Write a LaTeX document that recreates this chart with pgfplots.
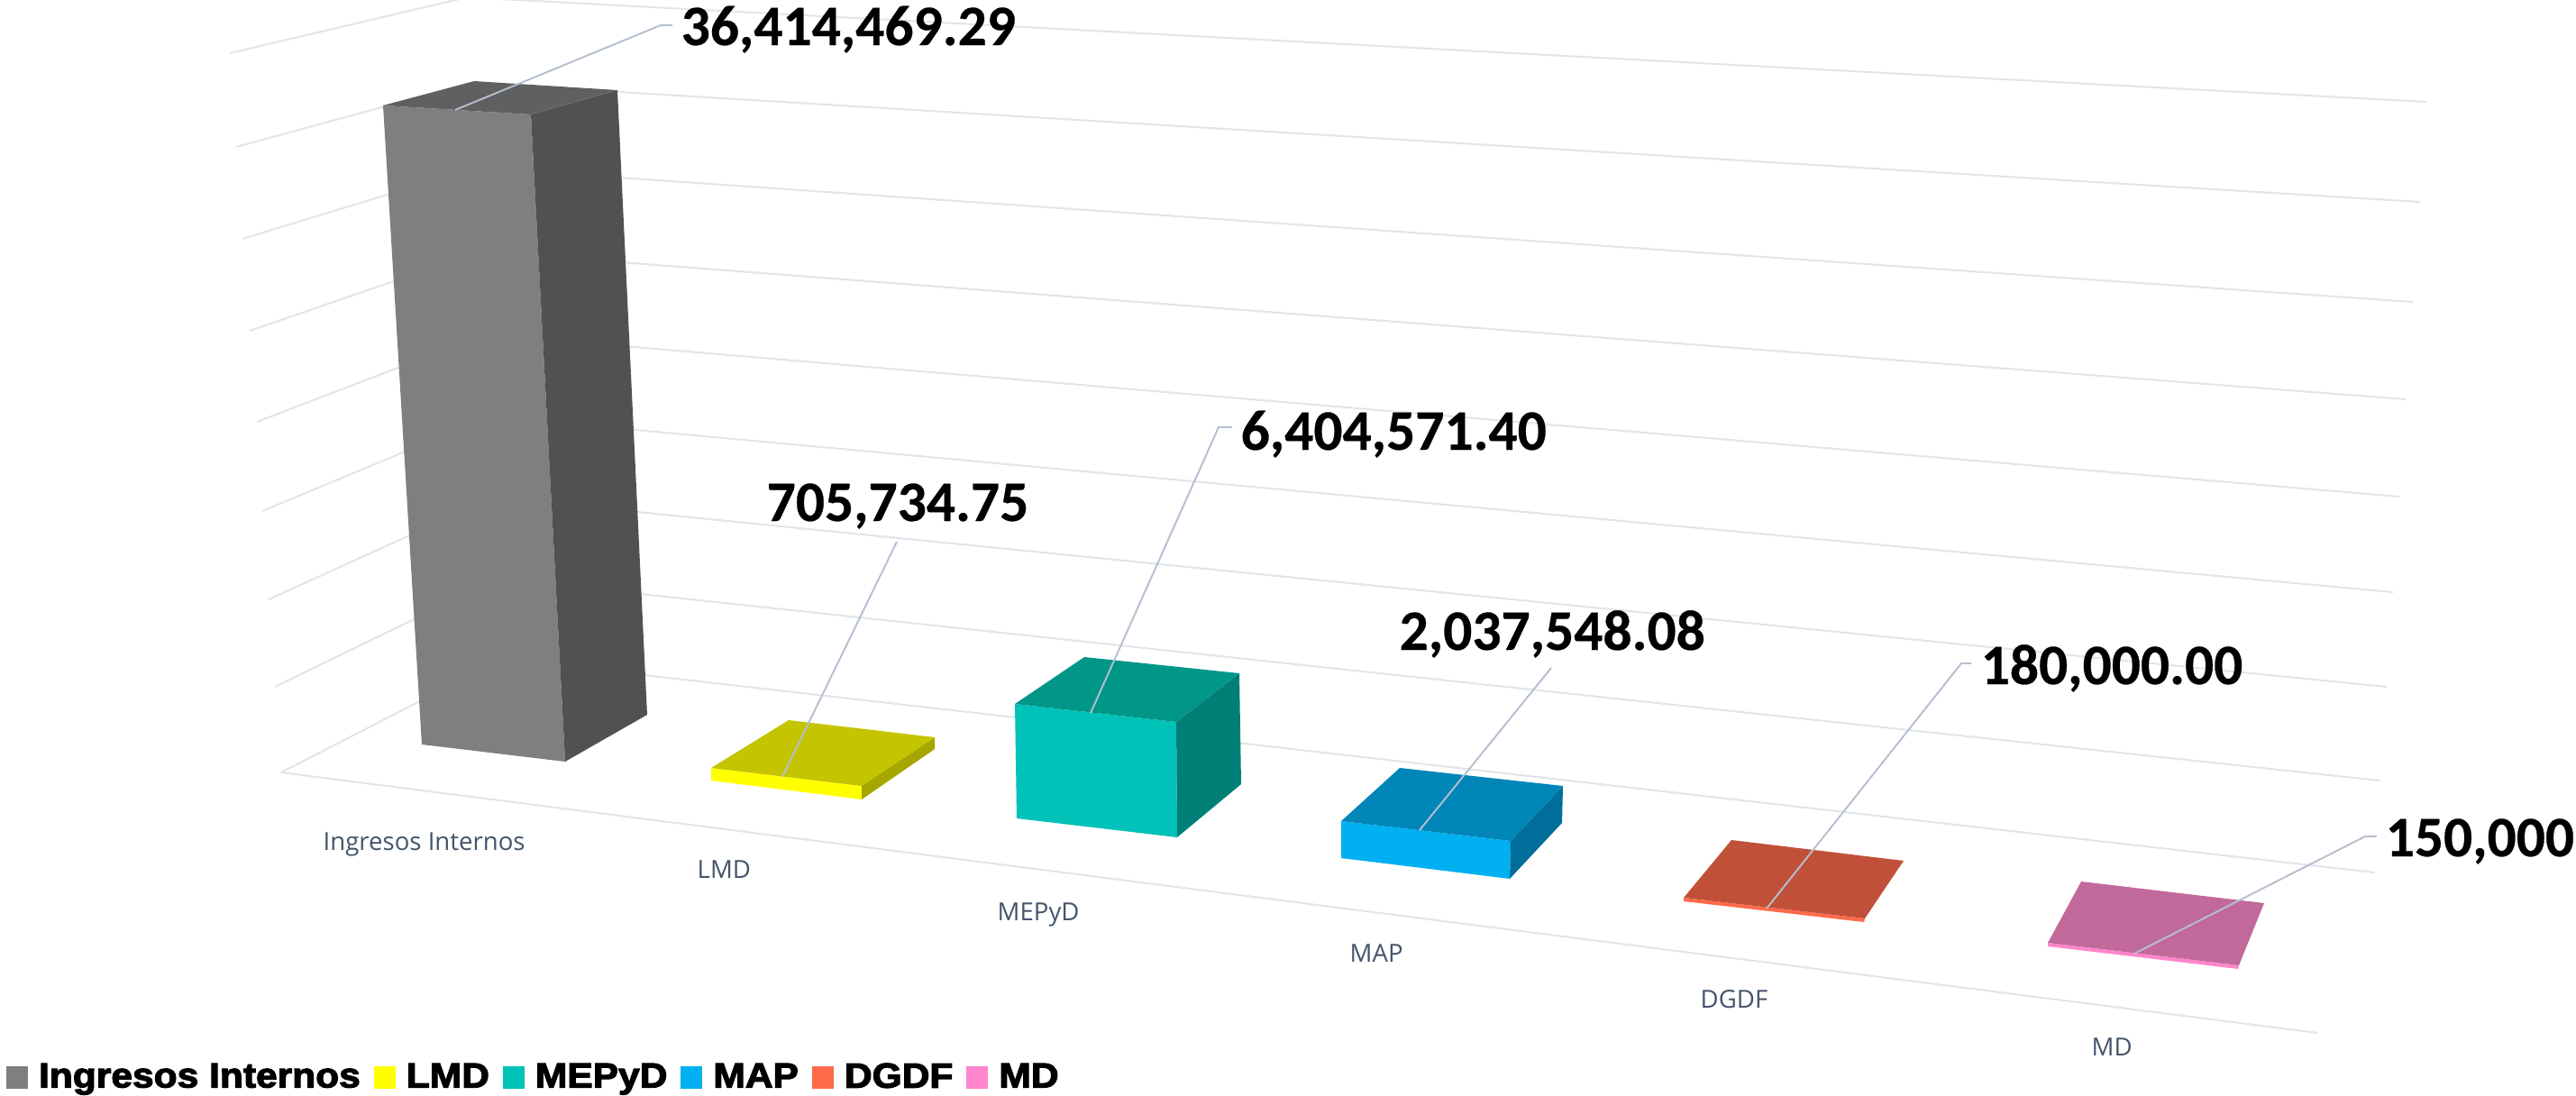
\documentclass[border=0pt]{standalone}
\usepackage{pgfplots}
\pgfplotsset{compat=1.18}
\usepackage{fontspec}
\setmainfont{Carlito}[BoldFeatures={FakeBold=0.4}]
\newfontfamily\catfont{Open Sans}
\newfontfamily\legfont{Liberation Sans}[BoldFeatures={FakeBold=3,FakeStretch=1.10}]
\definecolor{grid}{HTML}{E2E5EC}
\definecolor{lead}{HTML}{B4BFD0}
\definecolor{cat}{HTML}{44546A}
\definecolor{iiF}{HTML}{7F7F7F}\definecolor{iiS}{HTML}{515151}\definecolor{iiT}{HTML}{606060}
\definecolor{lmF}{HTML}{FFFF00}\definecolor{lmS}{HTML}{A6A600}\definecolor{lmT}{HTML}{C4C400}
\definecolor{meF}{HTML}{00C2B8}\definecolor{meS}{HTML}{007F76}\definecolor{meT}{HTML}{009688}
\definecolor{maF}{HTML}{00B0F0}\definecolor{maS}{HTML}{006E9B}\definecolor{maT}{HTML}{0086B8}
\definecolor{dgF}{HTML}{FF6A4A}\definecolor{dgT}{HTML}{C05038}
\definecolor{mdF}{HTML}{FF85CC}\definecolor{mdT}{HTML}{C2699B}
\pgfplotsset{
  gl/.style={draw=grid,line width=0.6pt},
  ll/.style={draw=lead,line width=0.55pt},
  face/.style={fill=#1,draw=none},
}
\begin{document}
\begin{tikzpicture}
\useasboundingbox (0,0) rectangle (285.8mm,121.5mm);
\begin{axis}[
  at={(0,0)},anchor=south west,
  scale only axis,width=285.8mm,height=121.5mm,
  xmin=0,xmax=2858,ymin=0,ymax=1215,y dir=reverse,
  hide axis,clip=true,
  legend columns=6,
  legend cell align=left,
  legend image code/.code={\path[#1] (0cm,-0.12cm) rectangle (0.24cm,0.125cm);},
  legend style={at={(axis description cs:0.00245,0.0025)},anchor=south west,draw=none,fill=none,inner sep=0pt,outer sep=0pt,
    font=\legfont\bfseries\fontsize{11pt}{12pt}\selectfont,
    nodes={inner xsep=0pt,inner ysep=0pt},
    /tikz/every even column/.append style={column sep=1.5mm},
    /tikz/every odd column/.append style={column sep=1.2mm}},
]
% gridlines
\addplot[gl,forget plot] coordinates {(255,59)(518,-3)(2692,113)};
\addplot[gl,forget plot] coordinates {(262,163)(523,92)(2685,224)};
\addplot[gl,forget plot] coordinates {(269,265)(528,186)(2677,335)};
\addplot[gl,forget plot] coordinates {(277,367)(533,279)(2669,443)};
\addplot[gl,forget plot] coordinates {(285,468)(538,371)(2662,551)};
\addplot[gl,forget plot] coordinates {(291,567)(543,462)(2655,657)};
\addplot[gl,forget plot] coordinates {(298,665)(547,552)(2648,762)};
\addplot[gl,forget plot] coordinates {(305,762)(552,642)(2640,866)};
\addplot[gl,forget plot] coordinates {(312,857)(557,731)(2634,968)};
\addplot[gl,forget plot] coordinates {(312,857)(2571,1146)};
% Ingresos Internos
\addplot[face=iiF] coordinates {(425,117)(589,127)(627,845)(468,826)} --cycle;
\addlegendentry{Ingresos Internos}
\addplot[face=iiS,forget plot] coordinates {(589,127)(685,100)(718,793)(627,845)} --cycle;
\addplot[face=iiT,forget plot] coordinates {(425,117)(526,90)(685,100)(589,127)} --cycle;
% LMD
\addplot[face=lmF] coordinates {(789,852)(956,872)(956,887)(789,866)} --cycle;
\addlegendentry{LMD}
\addplot[face=lmS,forget plot] coordinates {(956,872)(1037,818)(1037,831)(956,887)} --cycle;
\addplot[face=lmT,forget plot] coordinates {(789,852)(875,799)(1037,818)(956,872)} --cycle;
% MEPyD
\addplot[face=meF] coordinates {(1126,781)(1305,801)(1306,929)(1128,908)} --cycle;
\addlegendentry{MEPyD}
\addplot[face=meS,forget plot] coordinates {(1305,801)(1375,747)(1377,870)(1306,929)} --cycle;
\addplot[face=meT,forget plot] coordinates {(1126,781)(1203,729)(1375,747)(1305,801)} --cycle;
% MAP
\addplot[face=maF] coordinates {(1488,911)(1676,933)(1675,975)(1488,952)} --cycle;
\addlegendentry{MAP}
\addplot[face=maS,forget plot] coordinates {(1676,933)(1734,872)(1733,913)(1675,975)} --cycle;
\addplot[face=maT,forget plot] coordinates {(1488,911)(1553,852)(1734,872)(1676,933)} --cycle;
% DGDF
\addplot[face=dgF] coordinates {(1868,996)(2069,1019)(2068,1023)(1868,1000)} --cycle;
\addlegendentry{DGDF}
\addplot[face=dgT,forget plot] coordinates {(1868,996)(1921,932)(2112,955)(2069,1019)} --cycle;
% MD
\addplot[face=mdF] coordinates {(2272,1046)(2484,1071)(2483,1075)(2272,1050)} --cycle;
\addlegendentry{MD}
\addplot[face=mdT,forget plot] coordinates {(2272,1046)(2309,978)(2512,1002)(2484,1071)} --cycle;
% leader lines
\addplot[ll,forget plot] coordinates {(505,122)(733,28)(746,28)};
\addplot[ll,forget plot] coordinates {(868,862)(995,601)};
\addplot[ll,forget plot] coordinates {(1210,791)(1352,474)(1367,474)};
\addplot[ll,forget plot] coordinates {(1575,921)(1721,741)};
\addplot[ll,forget plot] coordinates {(1960,1008)(2176,736)(2187,736)};
\addplot[ll,forget plot] coordinates {(2368,1058)(2624,928)(2637,928)};
% value labels
\tikzset{val/.style={anchor=base west,inner sep=0pt,font=\bfseries\fontsize{18.05pt}{20pt}\selectfont,text=black},
 cl/.style={anchor=base west,inner sep=0pt,font=\catfont\fontsize{7.85pt}{9pt}\selectfont,text=cat}}
\node[val] at (axis cs:755,50) {36,414,469.29};
\node[val] at (axis cs:850,578) {705,734.75};
\node[val] at (axis cs:1376,499) {6,404,571.40};
\node[val] at (axis cs:1552,721) {2,037,548.08};
\node[val] at (axis cs:2197,759) {180,000.00};
\node[val] at (axis cs:2646,950) {150,000};
% category labels
\node[cl] at (axis cs:358,943) {Ingresos Internos};
\node[cl] at (axis cs:773,974) {LMD};
\node[cl] at (axis cs:1106,1021) {MEPyD};
\node[cl] at (axis cs:1497,1067) {MAP};
\node[cl] at (axis cs:1886,1118) {DGDF};
\node[cl] at (axis cs:2320,1171) {MD};
\end{axis}
\end{tikzpicture}
\end{document}
